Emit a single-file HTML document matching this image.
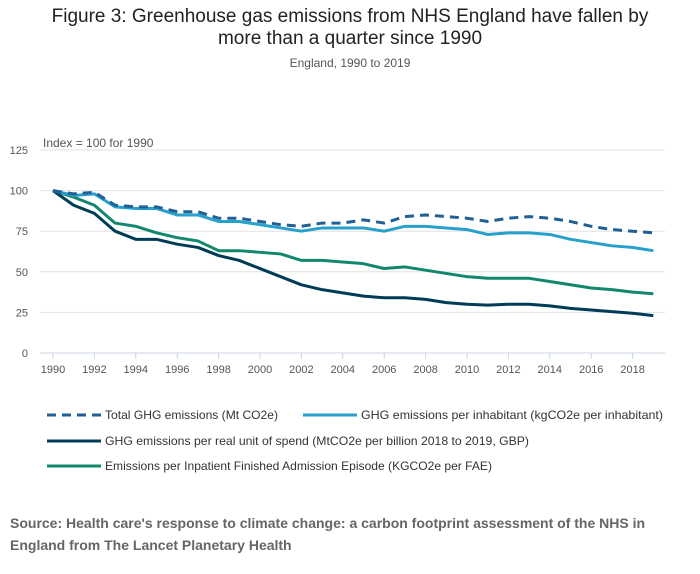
<!DOCTYPE html>
<html><head><meta charset="utf-8"><style>
body{margin:0;background:#fff;font-family:"Liberation Sans",sans-serif;}
#wrap{position:relative;width:700px;height:574px;overflow:hidden}
.t{position:absolute;white-space:nowrap}
</style></head><body>
<div id="wrap">
<div class="t" style="left:0;width:700px;text-align:center;top:6px;font-size:19px;line-height:22px;color:#222">Figure 3: Greenhouse gas emissions from NHS England have fallen by<br>more than a quarter since 1990</div>
<div class="t" style="left:0;width:700px;text-align:center;top:56px;font-size:12px;color:#555">England, 1990 to 2019</div>
<svg id="svg" width="700" height="574" style="position:absolute;left:0;top:0"></svg>
<div class="t" style="left:10px;top:512px;font-size:14px;line-height:22px;font-weight:bold;color:#666">Source: Health care's response to climate change: a carbon footprint assessment of the NHS in<br>England from The Lancet Planetary Health</div>
</div>
<script>
const years=[1990,1991,1992,1993,1994,1995,1996,1997,1998,1999,2000,2001,2002,2003,2004,2005,2006,2007,2008,2009,2010,2011,2012,2013,2014,2015,2016,2017,2018,2019];
const totalGhg=[100,98,99,91,90,90,87,87,83,83,81,79,78,80,80,82,80,84,85,84,83,81,83,84,83,81,78,76,75,74];
const perInhabitant=[100,97,98,90,89,89,85,85,81,81,79,77,75,77,77,77,75,78,78,77,76,73,74,74,73,70,68,66,65,63];
const perSpend=[100,91,86,75,70,70,67,65,60,57,52,47,42,39,37,35,34,34,33,31,30,29.5,30,30,29,27.5,26.5,25.5,24.5,23];
const perFae=[100,96,91,80,78,74,71,69,63,63,62,61,57,57,56,55,52,53,51,49,47,46,46,46,44,42,40,39,37.5,36.5];
const yTicks=[0,25,50,75,100,125];
const xTicks=[1990,1992,1994,1996,1998,2000,2002,2004,2006,2008,2010,2012,2014,2016,2018];
const NS="http://www.w3.org/2000/svg",svg=document.getElementById('svg');
const X=y=>53+(y-1990)*20.7, Y=v=>353-v*40.6/25;
function mk(t,a,p){const e=document.createElementNS(NS,t);for(const k in a)e.setAttribute(k,a[k]);(p||svg).appendChild(e);return e;}
yTicks.forEach(v=>{
 if(v>0){const l=mk('line',{x1:40,x2:665,y1:Y(v),y2:Y(v),stroke:'#e2e2e2'});
 
 }
 const t=mk('text',{x:28,y:Y(v)+4,'text-anchor':'end','font-size':11,fill:'#555'});t.textContent=v;
 
 
});
const ax=mk('line',{x1:40,x2:665,y1:353,y2:353,stroke:'#c8d3e6'});


xTicks.forEach(y=>{
 mk('line',{x1:X(y),x2:X(y),y1:353,y2:359,stroke:'#c8d3e6'});
 const t=mk('text',{x:X(y),y:373,'text-anchor':'middle','font-size':11,fill:'#555'});t.textContent=y;
 
 
});
const yt=mk('text',{x:43,y:147,'font-size':12,fill:'#555'});yt.textContent='Index = 100 for 1990';


const series=[[perFae,'#12876f',null,'series-fae'],[perSpend,'#003c57',null,'series-real-spend'],[perInhabitant,'#27a0cc',null,'series-per-inhabitant'],[totalGhg,'#206095','9,6','series-total-ghg']];
series.forEach(([d,c,da,n])=>{
 const p=mk('polyline',{points:d.map((v,i)=>X(years[i])+','+Y(v)).join(' '),fill:'none',stroke:c,'stroke-width':3,'stroke-linejoin':'round'});
 if(da)p.setAttribute('stroke-dasharray',da);
 
 
});
const leg=[[47,415,'#206095','9,6','Total GHG emissions (Mt CO2e)',173],[303,415,'#27a0cc',null,'GHG emissions per inhabitant (kgCO2e per inhabitant)',302],[47,441,'#003c57',null,'GHG emissions per real unit of spend (MtCO2e per billion 2018 to 2019, GBP)',424],[47,466,'#12876f',null,'Emissions per Inpatient Finished Admission Episode (KGCO2e per FAE)',387]];
leg.forEach(([x,y,c,da,txt,w])=>{
 const g=mk('g',{});
 
 
 const l=mk('line',{x1:x,x2:x+54,y1:y,y2:y,stroke:c,'stroke-width':3},g);if(da)l.setAttribute('stroke-dasharray',da);
 const t=mk('text',{x:x+58,y:y+4,'font-size':12,fill:'#333',textLength:w,lengthAdjust:'spacingAndGlyphs'},g);t.textContent=txt;
});
</script>
</body></html>
